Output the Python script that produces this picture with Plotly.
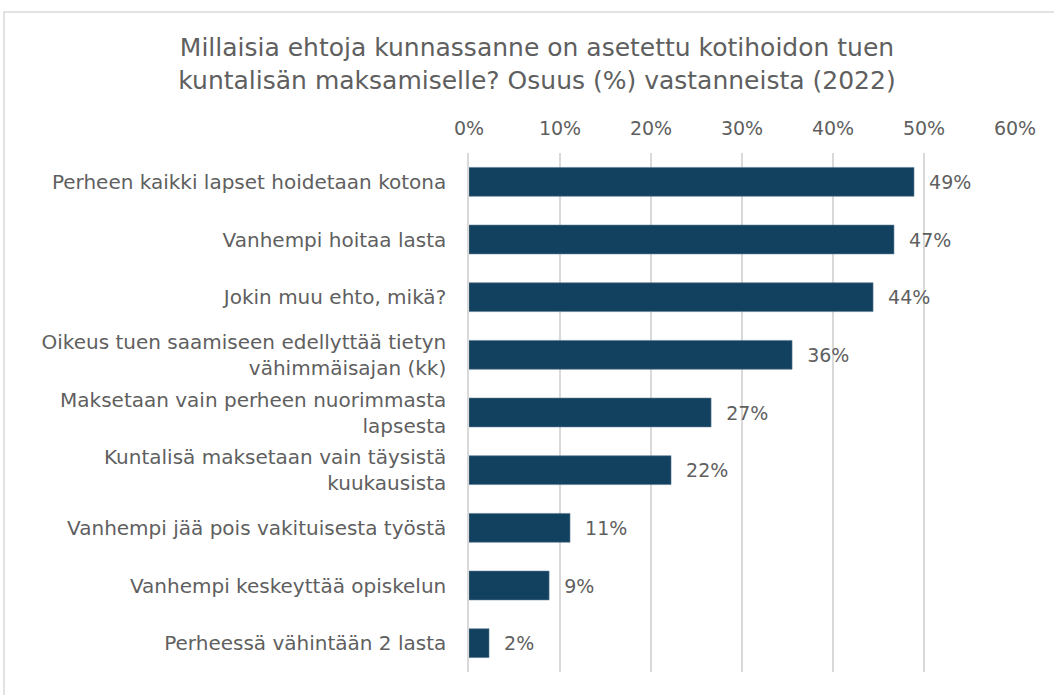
import plotly.graph_objects as go

categories = [
    "Perheen kaikki lapset hoidetaan kotona",
    "Vanhempi hoitaa lasta",
    "Jokin muu ehto, mikä?",
    "Oikeus tuen saamiseen edellyttää tietyn<br>vähimmäisajan (kk)",
    "Maksetaan vain perheen nuorimmasta<br>lapsesta",
    "Kuntalisä maksetaan vain täysistä<br>kuukausista",
    "Vanhempi jää pois vakituisesta työstä",
    "Vanhempi keskeyttää opiskelun",
    "Perheessä vähintään 2 lasta",
]
values = [0.489, 0.467, 0.444, 0.355, 0.266, 0.222, 0.111, 0.088, 0.022]
tick_vals = [0, 0.1, 0.2, 0.3, 0.4, 0.5, 0.6]
tick_text = ["0%", "10%", "20%", "30%", "40%", "50%", "60%"]

W, H = 1054, 695
L, R, T, B = 469, 39, 153, 23
pw, ph = W - L - R, H - T - B

def px(x):
    return (x - L) / pw

def py(y):
    return (H - B - y) / ph

font = "DejaVu Sans, sans-serif"
grey = "#5f5f5f"

fig = go.Figure(go.Bar(
    x=values, y=categories, orientation="h",
    marker=dict(color="#12405F", line=dict(color="#5a7891", width=0.6)),
    text=values, texttemplate="  %{x:.0%}", textposition="outside",
    textfont=dict(size=19, color=grey, family=font),
    cliponaxis=False,
))

fig.update_layout(
    width=W, height=H,
    margin=dict(l=L, r=R, t=T, b=B, autoexpand=False),
    paper_bgcolor="white", plot_bgcolor="white",
    bargap=0.5,
    showlegend=False,
    title=dict(
        text="Millaisia ehtoja kunnassanne on asetettu kotihoidon tuen<br>kuntalisän maksamiselle? Osuus (%) vastanneista (2022)",
        x=537 / W, xanchor="center", y=1 - 56 / H, yanchor="middle",
        font=dict(size=25, color=grey, family=font),
    ),
    font=dict(family=font, color=grey),
    shapes=[dict(type="rect", xref="paper", yref="paper",
                 x0=px(4), x1=px(1060), y0=py(705), y1=py(12),
                 line=dict(color="#d9d9d9", width=1.5), fillcolor="rgba(0,0,0,0)",
                 layer="below")],
)
fig.update_xaxes(
    side="top", range=[0, 0.6], tickvals=tick_vals, ticktext=tick_text,
    showgrid=True, gridcolor="#d9d9d9", gridwidth=1.5, zeroline=False,
    tickfont=dict(size=19, color=grey, family=font), ticklabelstandoff=13,
    showline=False,
)
fig.update_yaxes(
    autorange="reversed", showgrid=False,
    tickfont=dict(size=20, color=grey, family=font),
    ticklabelstandoff=17, showline=True, linecolor="#d9d9d9", linewidth=1.5,
)

fig.write_html("out.html", config={"displayModeBar": False},
               post_script="document.body.style.margin='0';document.body.style.padding='0';")
